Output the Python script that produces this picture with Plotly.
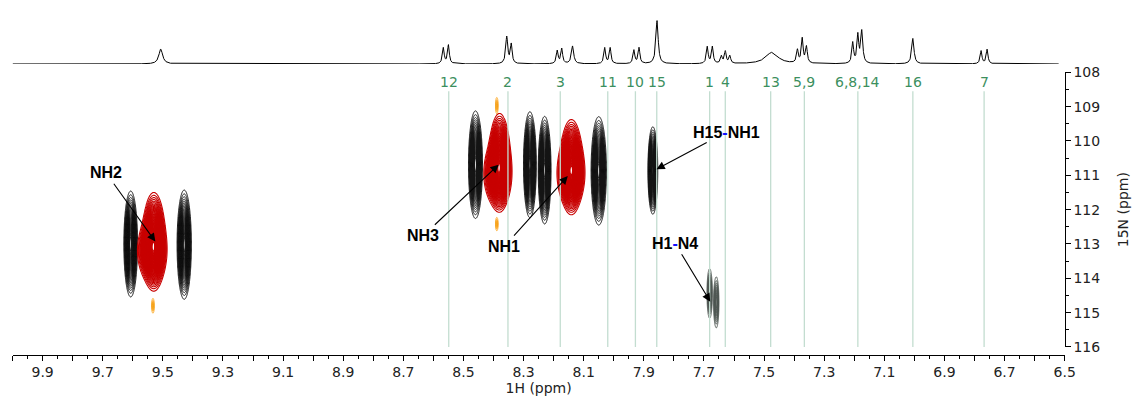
import numpy as np
import plotly.graph_objects as go

W, H = 1144, 403

# ---------------- 1H projection (top trace) ----------------
# multiplet lines: position (ppm), height (px above baseline), half-width (ppm)
proj_ppm = [9.507, 8.567, 8.550, 8.356, 8.341, 8.188, 8.173, 8.137, 8.030, 8.012,
            7.933, 7.916, 7.856, 7.689, 7.672, 7.642, 7.629, 7.614, 7.474, 7.389,
            7.373, 7.359, 7.205, 7.188, 7.175, 7.005, 6.778, 6.758]
proj_height = [15.5, 16.5, 19.5, 28.0, 20.0, 13.5, 15.5, 18.5, 16.5, 16.5,
               14.0, 16.5, 45.0, 17.5, 17.5, 7.5, 12.5, 8.0, 12.0, 13.5,
               25.5, 17.0, 21.5, 29.0, 33.5, 26.5, 13.5, 15.0]
proj_width = [0.0075, 0.0035, 0.0035, 0.0040, 0.0035, 0.0035, 0.0035, 0.0045, 0.0035, 0.0035,
              0.0035, 0.0035, 0.0045, 0.0035, 0.0035, 0.0035, 0.0035, 0.0035, 0.0250, 0.0035,
              0.0035, 0.0035, 0.0035, 0.0035, 0.0040, 0.0045, 0.0035, 0.0035]

# assignment markers
assign_labels = ["12", "2", "3", "11", "10", "15", "1", "4", "13", "5,9", "6,8,14", "16", "7"]
assign_ppm = [8.549, 8.352, 8.178, 8.020, 7.928, 7.857, 7.681, 7.629, 7.478, 7.366, 7.188, 7.005, 6.768]

# ---------------- 1H-15N cross peaks ----------------
# black peaks: 1H, 15N, sigma 1H, sigma 15N
black_h = [9.607, 9.429, 8.460, 8.279, 8.230, 8.050, 7.870]
black_n = [113.00, 113.02, 110.69, 110.69, 110.85, 110.87, 110.86]
black_sh = [0.0093, 0.0097, 0.0095, 0.0087, 0.0087, 0.0104, 0.0067]
black_sn = [0.63, 0.65, 0.64, 0.63, 0.64, 0.645, 0.52]

# red (NH) peaks: main component plus a broader lower shoulder
red_h = [9.530, 8.380, 8.141]
red_n = [112.92, 110.60, 110.75]
red_sh = [0.016, 0.015, 0.016]
red_sn = [0.60, 0.59, 0.58]
red_shoulder_h = [9.537, 8.387, 8.143]
red_shoulder_n = [113.20, 110.95, 110.95]
red_shoulder_sh = [0.022, 0.021, 0.021]
red_shoulder_sn = [0.40, 0.42, 0.40]
red_shoulder_amp = [0.6, 0.6, 0.55]

# weak H1-N4 pair
weak_h = [7.681, 7.659]
weak_n = [114.44, 114.70]
weak_sh = [0.0040, 0.0040]
weak_sn = [0.32, 0.33]

# small orange artefacts
orange_h = [9.533, 8.389, 8.389]
orange_n = [114.80, 108.97, 112.42]
orange_sh = [0.0022, 0.0022, 0.0022]
orange_sn = [0.10, 0.11, 0.09]

# labelled arrows: text, text position (1H, 15N), arrow tip (1H, 15N)
note_text = ["NH2", "NH3", "NH1", "H15<span style='color:#1010ff'>-</span>NH1",
             "H1<span style='color:#1010ff'>-</span>N4"]
note_h = [9.689, 8.633, 8.364, 7.625, 7.796]
note_n = [110.93, 112.75, 113.07, 109.74, 112.98]
tip_h = [9.525, 8.383, 8.153, 7.858, 7.679]
tip_n = [112.93, 110.69, 111.02, 110.82, 114.68]

# ---------------- layout geometry ----------------
X0, X1 = 12.7, 1075.0          # x-axis extent in px
Y108, Y116 = 67.0, 353.0       # 15N axis extent in px
XAXIS_Y = 361.0
BASE_Y, TOP_Y = 58.3, 8.3      # projection baseline / top


def py(v):
    return 1 - v / H


fig = go.Figure()

# projection trace
proj_x = np.arange(6.52, 10.0, 0.0005)
proj_y = np.zeros_like(proj_x)
for p, h, w in zip(proj_ppm, proj_height, proj_width):
    proj_y += h / (1 + ((proj_x - p) / w) ** 2)
fig.add_trace(go.Scatter(x=proj_x, y=proj_y, mode="lines",
                         line=dict(color="black", width=1),
                         xaxis="x2", yaxis="y2", hoverinfo="skip", showlegend=False))


def gauss(XX, YY, h0, n0, sh, sn):
    return np.exp(-0.5 * (((XX - h0) / sh) ** 2 + ((YY - n0) / sn) ** 2))


def add_contour(xs, ys, Z, color, levels, width):
    fig.add_trace(go.Contour(
        x=xs, y=ys, z=Z,
        contours=dict(coloring="lines", start=levels[0], end=levels[1], size=levels[2]),
        colorscale=[[0, color], [1, color]], showscale=False,
        line=dict(width=width, smoothing=1),
        hoverinfo="skip", xaxis="x", yaxis="y"))


def add_peaks(hs, ns, shs, sns, color, levels, width=1.0):
    for h0, n0, sh, sn in zip(hs, ns, shs, sns):
        xs = np.arange(h0 - 3 * sh, h0 + 3 * sh, sh / 10)
        ys = np.arange(n0 - 3 * sn, n0 + 3 * sn, sn / 25)
        XX, YY = np.meshgrid(xs, ys)
        add_contour(xs, ys, gauss(XX, YY, h0, n0, sh, sn), color, levels, width)


add_peaks(black_h, black_n, black_sh, black_sn, "#141414", (0.05, 0.95, 0.025))

# red peaks: two overlapping components on a shared grid
for i in range(len(red_h)):
    xs = np.arange(red_h[i] - 0.075, red_h[i] + 0.075, 0.0012)
    ys = np.arange(red_n[i] - 2.1, red_n[i] + 2.3, 0.02)
    XX, YY = np.meshgrid(xs, ys)
    Z = gauss(XX, YY, red_h[i], red_n[i], red_sh[i], red_sn[i])
    Z += red_shoulder_amp[i] * gauss(XX, YY, red_shoulder_h[i], red_shoulder_n[i],
                                     red_shoulder_sh[i], red_shoulder_sn[i])
    Z /= Z.max()
    add_contour(xs, ys, Z, "#c80000", (0.04, 0.97, 0.015), 1.1)

add_peaks(weak_h, weak_n, weak_sh, weak_sn, "#4f5753", (0.08, 0.9, 0.08))
add_peaks(orange_h, orange_n, orange_sh, orange_sn, "#f5a623", (0.1, 0.9, 0.2))

# assignment lines and labels
shapes = []
annotations = []
for lab, p in zip(assign_labels, assign_ppm):
    shapes.append(dict(type="line", xref="x", yref="y", x0=p, x1=p, y0=108.55, y1=116.0,
                       line=dict(color="#c3ddd0", width=1.3), layer="above"))
    annotations.append(dict(x=p, y=py(77), xref="x", yref="paper", text=lab,
                            showarrow=False, xanchor="center", yanchor="middle",
                            font=dict(family="DejaVu Sans", size=14, color="#3c8f5e")))

for t, th, tn, ah, an in zip(note_text, note_h, note_n, tip_h, tip_n):
    annotations.append(dict(x=ah, y=an, ax=th, ay=tn, xref="x", yref="y", axref="x", ayref="y",
                            text="<b>" + t + "</b>", showarrow=True, arrowhead=2,
                            arrowsize=1.5, arrowwidth=1.1, arrowcolor="black", startstandoff=1,
                            font=dict(family="Liberation Sans, Arial", size=16, color="black")))

x_ticks = [round(10.0 - 0.1 * i, 1) for i in range(36)]
x_text = [f"{v:.1f}" if round(v * 10) % 2 == 1 else "" for v in x_ticks]

axis_font = dict(family="DejaVu Sans", size=14, color="#222")

fig.update_layout(
    width=W, height=H, margin=dict(l=0, r=0, t=0, b=0),
    paper_bgcolor="white", plot_bgcolor="white", showlegend=False,
    shapes=shapes, annotations=annotations,
    xaxis=dict(domain=[X0 / W, X1 / W], range=[10.0, 6.5], anchor="free", position=py(XAXIS_Y),
               tickmode="array", tickvals=x_ticks, ticktext=x_text,
               ticks="outside", ticklen=5, tickwidth=1, tickcolor="black",
               showline=True, linecolor="black", linewidth=1, showgrid=False, zeroline=False,
               minor=dict(dtick=0.05, tick0=6.5, ticks="outside", ticklen=3, tickcolor="black",
                          showgrid=False),
               tickfont=axis_font,
               title=dict(text="1H (ppm)", standoff=3, font=axis_font)),
    yaxis=dict(domain=[py(Y116), py(Y108)], range=[116, 108], anchor="x", side="right",
               tickmode="linear", tick0=108, dtick=1,
               ticks="outside", ticklen=5, tickwidth=1, tickcolor="black",
               showline=True, linecolor="black", linewidth=1, showgrid=False, zeroline=False,
               minor=dict(dtick=0.5, ticks="outside", ticklen=3, tickcolor="black", showgrid=False),
               tickfont=axis_font,
               title=dict(text="15N (ppm)", standoff=18, font=axis_font)),
    xaxis2=dict(domain=[X0 / W, X1 / W], range=[10.0, 6.5], anchor="y2", visible=False),
    yaxis2=dict(domain=[py(BASE_Y), py(TOP_Y)], range=[0, 50], anchor="x2", visible=False),
)

fig.write_html("out.html")
